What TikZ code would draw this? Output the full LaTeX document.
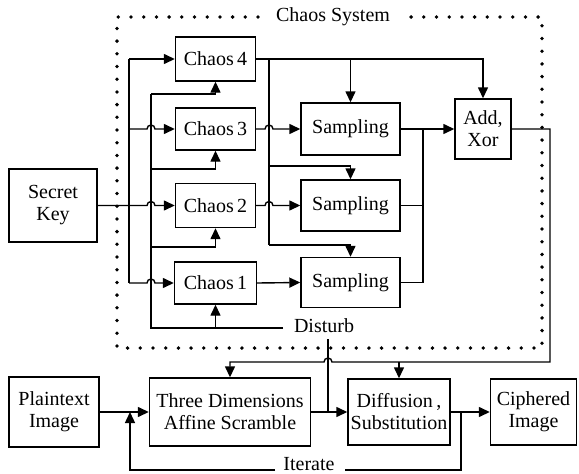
\documentclass[tikz,border=0pt]{standalone}
\usepackage{fontspec}
\setmainfont{Liberation Serif}
\usetikzlibrary{arrows.meta}
\begin{document}
\begin{tikzpicture}[x=1pt,y=-1pt,
  line width=1.4pt,
  box/.style={draw,line width=1.4pt,inner sep=0pt,align=center,font=\fontsize{20}{22}\selectfont},
  lbl/.style={inner sep=0pt,font=\fontsize{20}{22}\selectfont},
  arr/.style={-{Triangle[length=11pt,width=10pt]}},
  dots/.style={line width=3.8pt,line cap=round,dash pattern=on 0pt off 12.7pt}]
\useasboundingbox (0,0) rectangle (579,474);
% dotted boundary
\draw[dots] (258,17) -- (117,17) -- (117,348) -- (542,348) -- (542,17) -- (408,17);
\node[lbl] (title) at (333,17) {Chaos System};
% boxes
\node[box,minimum width=88pt,minimum height=73pt] (key) at (53,205.5) {Secret\\Key};
\node[box,minimum width=80pt,minimum height=44pt] (c4) at (215.5,59) {Chaos\,4};
\node[box,minimum width=80pt,minimum height=42pt] (c3) at (215.5,129) {Chaos\,3};
\node[box,minimum width=80pt,minimum height=44pt] (c2) at (215.5,205.5) {Chaos\,2};
\node[box,minimum width=82pt,minimum height=42pt] (c1) at (215.5,283) {Chaos\,1};
\node[box,minimum width=99pt,minimum height=52pt] (s1) at (350.5,129) {Sampling};
\node[box,minimum width=99pt,minimum height=51pt] (s2) at (350.5,205.5) {Sampling};
\node[box,minimum width=99pt,minimum height=50pt] (s3) at (350.5,282.5) {Sampling};
\node[box,minimum width=56pt,minimum height=60pt] (add) at (483,129) {Add,\\Xor};
\node[box,minimum width=90pt,minimum height=70pt] (plain) at (54,412) {Plaintext\\Image};
\node[box,minimum width=161pt,minimum height=68pt] (three) at (230,412) {Three Dimensions\\Affine Scramble};
\node[box,minimum width=102pt,minimum height=66pt] (diff) at (399,412) {Diffusion\,,\\Substitution};
\node[box,minimum width=86pt,minimum height=66pt] (ciph) at (533.5,412) {Ciphered\\Image};
\node[lbl] (dist) at (324,326) {Disturb};
\node[lbl] (iter) at (309,464) {Iterate};
% key bus
\draw (129,59) -- (129,283);
\draw[arr] (129,59) -- (c4.west);
\draw[arr] (129,129) -- (147,129) arc[start angle=180,end angle=0,radius=4pt] -- (c3.west);
\draw[arr] (key.east) -- (147,205.5) arc[start angle=180,end angle=0,radius=4pt] -- (c2.west);
\draw[arr] (129,283) -- (147,283) arc[start angle=180,end angle=0,radius=4pt] -- (c1.west);
% disturb feedback bus
\draw (283,328) -- (151,328) -- (151,94);
\draw[arr] (151,94) -- (215.5,94) -- (c4.south);
\draw[arr] (151,169) -- (215.5,169) -- (c3.south);
\draw[arr] (151,247) -- (215.5,247) -- (c2.south);
\draw[arr] (215.5,328) -- (c1.south);
% chaos 4 distribution
\draw[arr] (c4.east) -- (483,59) -- (add.north);
\draw[arr] (350.5,59) -- (s1.north);
\draw (269,59) -- (269,245);
\draw[arr] (269,166) -- (350.5,166) -- (s2.north);
\draw[arr] (269,245) -- (350.5,245) -- (s3.north);
% chaos outputs to sampling
\draw[arr] (c3.east) -- (265,129) arc[start angle=180,end angle=0,radius=4pt] -- (s1.west);
\draw[arr] (c2.east) -- (265,205.5) arc[start angle=180,end angle=0,radius=4pt] -- (s2.west);
\draw[arr] (c1.east) -- (s3.west);
% sampling outputs
\draw[arr] (s1.east) -- (add.west);
\draw (423,129) -- (423,282.5) -- (s3.east);
\draw (s2.east) -- (423,205.5);
% add output to lower stage
\draw[arr] (add.east) -- (550,129) -- (550,362) -- (332,362) arc[start angle=0,end angle=180,radius=4pt] -- (230,362) -- (three.north);
\draw[arr] (399,362) -- (diff.north);
% disturb line
\draw (328,339) -- (328,412);
% lower stage
\draw[arr] (plain.east) -- (three.west);
\draw[arr] (three.east) -- (diff.west);
\draw[arr] (diff.east) -- (ciph.west);
\draw (461,412) -- (461,470) -- (345,470);
\draw[arr] (275,470) -- (130,470) -- (130,412);
\end{tikzpicture}
\end{document}
